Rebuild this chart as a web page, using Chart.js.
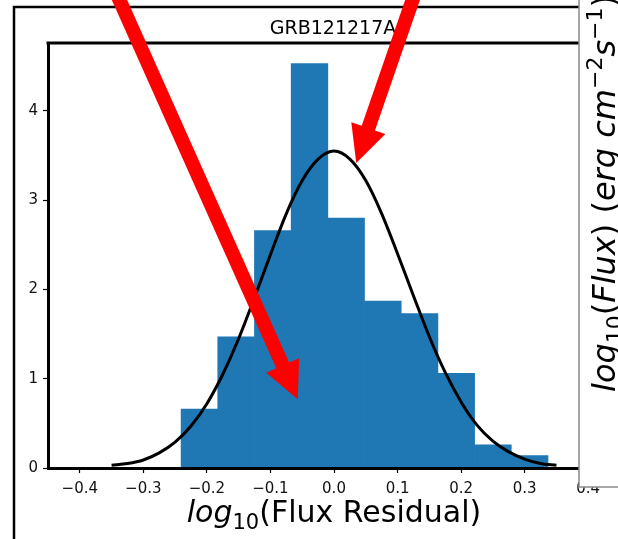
<!DOCTYPE html>
<html>
<head>
<meta charset="utf-8">
<title>GRB121217A residuals</title>
<script src="https://cdn.jsdelivr.net/npm/chart.js@4.4.1/dist/chart.umd.min.js"></script>
<style>
  html, body { margin: 0; padding: 0; background: #fff; overflow: hidden; }
</style>
</head>
<body>
<canvas id="myChart" width="640" height="539"></canvas>
<script>
// histogram of log10 flux residuals (density) + fitted normal curve
const grbName = 'GRB121217A';
const binEdges = [-0.2406, -0.1829, -0.1252, -0.0674, -0.0097, 0.0480, 0.1058, 0.1635, 0.2212, 0.2790, 0.3367];
const density = [0.66, 1.47, 2.66, 4.53, 2.80, 1.87, 1.73, 1.06, 0.26, 0.14];

const curveX = [-0.350, -0.325, -0.300, -0.275, -0.250, -0.225, -0.200, -0.175, -0.150, -0.125,
                -0.100, -0.075, -0.050, -0.025, 0.000, 0.025, 0.050, 0.075, 0.100, 0.125,
                0.150, 0.175, 0.200, 0.225, 0.250, 0.275, 0.300, 0.325, 0.350];
const curveY = [0.03, 0.05, 0.09, 0.17, 0.29, 0.47, 0.72, 1.05, 1.45, 1.91,
                2.39, 2.85, 3.22, 3.46, 3.55, 3.46, 3.22, 2.85, 2.40, 1.93,
                1.47, 1.07, 0.74, 0.48, 0.30, 0.18, 0.10, 0.05, 0.03];

const xTicks = [-0.4, -0.3, -0.2, -0.1, 0.0, 0.1, 0.2, 0.3, 0.4];
const yTicks = [0, 1, 2, 3, 4];

// red pointers, in data units (tail -> tip)
const arrows = [
    { from: [-0.360, 5.60], to: [-0.057, 0.77] },
    { from: [0.141, 5.60], to: [0.035, 3.415] }
];

const FONT = '"DejaVu Sans", sans-serif';

function fmtX(v) {
    const s = Math.abs(v) < 1e-9 ? '0.0' : v.toFixed(1);
    return s.replace('-', '\u2212');
}

function drawArrow(ctx, x0, y0, x1, y1) {
    const shaftW = 14, headW = 36, headL = 37;
    const dx = x1 - x0, dy = y1 - y0;
    const len = Math.hypot(dx, dy);
    const ux = dx / len, uy = dy / len;
    const px = -uy, py = ux;
    const bx = x1 - ux * headL, by = y1 - uy * headL;
    ctx.fillStyle = '#ff0000';
    ctx.beginPath();
    ctx.moveTo(x0 + px * shaftW / 2, y0 + py * shaftW / 2);
    ctx.lineTo(bx + px * shaftW / 2, by + py * shaftW / 2);
    ctx.lineTo(bx + px * headW / 2, by + py * headW / 2);
    ctx.lineTo(x1, y1);
    ctx.lineTo(bx - px * headW / 2, by - py * headW / 2);
    ctx.lineTo(bx - px * shaftW / 2, by - py * shaftW / 2);
    ctx.lineTo(x0 - px * shaftW / 2, y0 - py * shaftW / 2);
    ctx.closePath();
    ctx.fill();
}

// draws a run of mathtext-like pieces starting at (x, y) on the baseline
function drawPieces(ctx, pieces, x, y) {
    pieces.forEach(p => {
        ctx.font = (p.it ? 'italic ' : '') + p.size + 'px ' + FONT;
        ctx.fillText(p.t, x, y + (p.dy || 0));
        x += ctx.measureText(p.t).width;
    });
}
function piecesWidth(ctx, pieces) {
    let w = 0;
    pieces.forEach(p => {
        ctx.font = (p.it ? 'italic ' : '') + p.size + 'px ' + FONT;
        w += ctx.measureText(p.t).width;
    });
    return w;
}

const xLabel = [
    { t: 'log', it: true, size: 30 },
    { t: '10', size: 21, dy: 7 },
    { t: '(Flux Residual)', size: 30 }
];
const yLabelRight = [
    { t: 'log', it: true, size: 32 },
    { t: '10', size: 22, dy: 7 },
    { t: '(', size: 32 },
    { t: 'Flux', it: true, size: 32 },
    { t: ') (', size: 32 },
    { t: 'erg', it: true, size: 32 },
    { t: ' ', size: 32 },
    { t: 'cm', it: true, size: 32 },
    { t: '\u22122', size: 22, dy: -13 },
    { t: 's', it: true, size: 32 },
    { t: '\u22121', size: 22, dy: -13 },
    { t: ')', size: 32 }
];

const decor = {
    id: 'decor',
    afterDraw(chart) {
        const ctx = chart.ctx;
        const a = chart.chartArea;
        const xs = chart.scales.x, ys = chart.scales.y;
        ctx.save();

        // top spine
        ctx.strokeStyle = '#000';
        ctx.lineWidth = 3;
        ctx.beginPath();
        ctx.moveTo(a.left - 1.5, a.top);
        ctx.lineTo(a.right + 2, a.top);
        ctx.stroke();

        // outer frame of the figure
        ctx.lineWidth = 2.5;
        ctx.beginPath();
        ctx.moveTo(14, 600);
        ctx.lineTo(14, 7);
        ctx.lineTo(700, 7);
        ctx.stroke();

        // title
        ctx.fillStyle = '#000';
        ctx.textAlign = 'center';
        ctx.textBaseline = 'alphabetic';
        ctx.font = '19px ' + FONT;
        ctx.fillText(grbName, (a.left + a.right) / 2 - 1, 34);

        // x axis label
        ctx.textAlign = 'left';
        const w = piecesWidth(ctx, xLabel);
        drawPieces(ctx, xLabel, (a.left + a.right) / 2 - w / 2, 522);

        // arrows
        arrows.forEach(ar => {
            drawArrow(ctx,
                xs.getPixelForValue(ar.from[0]), ys.getPixelForValue(ar.from[1]),
                xs.getPixelForValue(ar.to[0]), ys.getPixelForValue(ar.to[1]));
        });

        // neighbouring panel on the right
        ctx.fillStyle = '#fff';
        ctx.fillRect(579, -5, 100, 492);
        ctx.strokeStyle = '#8a8a8a';
        ctx.lineWidth = 1.5;
        ctx.strokeRect(579, -5, 100, 492);

        ctx.fillStyle = '#000';
        ctx.translate(615, 392);
        ctx.rotate(-Math.PI / 2);
        drawPieces(ctx, yLabelRight, 0, 0);

        ctx.restore();
    }
};

const centers = density.map((d, i) => (binEdges[i] + binEdges[i + 1]) / 2);

const ctx = document.getElementById('myChart').getContext('2d');
const myChart = new Chart(ctx, {
    type: 'bar',
    data: {
        datasets: [{
            type: 'line',
            data: curveX.map((x, i) => ({ x: x, y: curveY[i] })),
            borderColor: '#000',
            borderWidth: 3,
            pointRadius: 0,
            fill: false,
            cubicInterpolationMode: 'monotone',
            order: 1
        }, {
            type: 'bar',
            data: centers.map((c, i) => ({ x: c, y: density[i] })),
            backgroundColor: '#1f77b4',
            borderWidth: 0,
            barPercentage: 1,
            categoryPercentage: 1,
            order: 2
        }]
    },
    options: {
        responsive: false,
        animation: false,
        devicePixelRatio: 1,
        layout: { padding: { left: 0, top: 43, right: 20, bottom: 0 } },
        plugins: {
            legend: { display: false },
            tooltip: { enabled: false },
            title: { display: false }
        },
        scales: {
            x: {
                type: 'linear',
                min: -0.45,
                max: 0.45,
                offset: false,
                afterFit: s => { s.height = 71; },
                afterBuildTicks: s => { s.ticks = xTicks.map(v => ({ value: v })); },
                grid: { display: true, drawOnChartArea: false, drawTicks: true, tickLength: 5, tickColor: '#000', tickWidth: 1.2, offset: false },
                border: { display: true, color: '#000', width: 3, z: 1 },
                ticks: { autoSkip: false, maxRotation: 0, padding: 7, color: '#111', font: { family: FONT, size: 15 }, callback: v => fmtX(v) }
            },
            y: {
                min: 0,
                max: 4.76,
                afterFit: s => { s.width = 48; },
                afterBuildTicks: s => { s.ticks = yTicks.map(v => ({ value: v })); },
                grid: { display: true, drawOnChartArea: false, drawTicks: true, tickLength: 5, tickColor: '#000', tickWidth: 1.2 },
                border: { display: true, color: '#000', width: 3, z: 1 },
                ticks: { padding: 5, color: '#111', font: { family: FONT, size: 15 }, callback: v => String(v) }
            }
        }
    },
    plugins: [decor]
});
</script>
</body>
</html>
